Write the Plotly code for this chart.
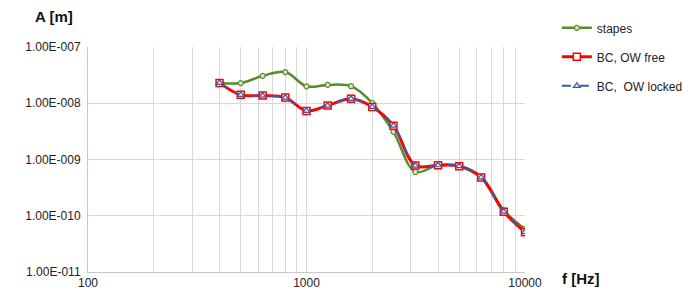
import plotly.graph_objects as go

freq = [400, 500, 630, 800, 1000, 1250, 1600, 2000, 2500, 3150, 4000, 5000, 6300, 8000, 10000]
stapes = [2.3e-8, 2.28e-8, 3.07e-8, 3.58e-8, 2.0e-8, 2.12e-8, 2.01e-8, 1.01e-8, 3.1e-9, 6.0e-10,
          8.0e-10, 7.7e-10, 5.0e-10, 1.25e-10, 5.8e-11]
ow_free = [2.3e-8, 1.41e-8, 1.37e-8, 1.26e-8, 7.3e-9, 9.1e-9, 1.2e-8, 8.6e-9, 4.0e-9, 7.8e-10,
           7.9e-10, 7.6e-10, 4.8e-10, 1.18e-10, 5.1e-11]
ow_locked = [2.3e-8, 1.41e-8, 1.37e-8, 1.26e-8, 7.3e-9, 9.1e-9, 1.2e-8, 8.6e-9, 4.0e-9, 7.8e-10,
             7.9e-10, 7.6e-10, 4.8e-10, 1.18e-10, 5.1e-11]

y_tickvals = [1e-11, 1e-10, 1e-9, 1e-8, 1e-7]
y_ticktext = ["1.00E-011", "1.00E-010", "1.00E-009", "1.00E-008", "1.00E-007"]
x_tickvals = [100, 1000, 10000]
x_ticktext = ["100", "1000", "10000"]

fig = go.Figure()
fig.add_trace(go.Scatter(
    x=freq, y=stapes, name="stapes", mode="lines+markers", line_shape="spline",
    line=dict(color="#5a8a2e", width=2.5),
    marker=dict(symbol="circle", size=5, color="#d8e6c8", line=dict(color="#5a8a2e", width=1.2)),
    legendgroup="a"))
fig.add_trace(go.Scatter(
    x=freq, y=ow_free, name="BC, OW free", mode="lines+markers", line_shape="spline",
    line=dict(color="#ff0000", width=3),
    marker=dict(symbol="square", size=7, color="white", line=dict(color="#ff0000", width=1.5)),
    legendgroup="b"))
fig.add_trace(go.Scatter(
    x=freq, y=ow_locked, name="BC,  OW locked", mode="lines+markers", line_shape="spline",
    line=dict(color="#3a5ba8", width=2, dash="dash"),
    marker=dict(symbol="triangle-up", size=6, color="#e8ecf8", line=dict(color="#3a5ba8", width=1.2)),
    legendgroup="c"))

fig.update_layout(
    width=693, height=297,
    margin=dict(l=80, r=176, t=39, b=33, autoexpand=False),
    paper_bgcolor="white", plot_bgcolor="white",
    font=dict(family="Liberation Sans, Arial, sans-serif", size=11, color="#222"),
    showlegend=True,
    legend=dict(xref="container", yref="container", x=0.792, y=0.982, xanchor="left", yanchor="top",
                font=dict(size=12, color="#222"), tracegroupgap=10,
                traceorder="grouped", itemwidth=30, bgcolor="rgba(0,0,0,0)"),
    xaxis=dict(type="log", range=[2, 4], tickvals=x_tickvals, ticktext=x_ticktext,
               showgrid=True, gridcolor="#d9d9d9", gridwidth=1,
               minor=dict(showgrid=True, gridcolor="#d9d9d9", gridwidth=1, ticks="", dtick="D1"),
               showline=True, linecolor="#c8c8c8", linewidth=1, zeroline=False,
               ticks="", tickfont=dict(size=12, color="#222")),
    yaxis=dict(type="log", range=[-11, -7], tickvals=y_tickvals, ticktext=y_ticktext,
               showgrid=True, gridcolor="#d9d9d9", gridwidth=1,
               showline=True, linecolor="#c8c8c8", linewidth=1, zeroline=False,
               ticks="", tickfont=dict(size=12, color="#222"), ticklabelstandoff=4),
)

fig.add_annotation(text="<b>A [m]</b>", xref="paper", yref="paper", x=-0.126, y=1.136,
                   xanchor="left", yanchor="middle", showarrow=False,
                   font=dict(size=15, color="#111"))
fig.add_annotation(text="<b>f [Hz]</b>", xref="paper", yref="paper", x=1.08, y=-0.03,
                   xanchor="left", yanchor="middle", showarrow=False,
                   font=dict(size=15, color="#111"))
fig.add_shape(type="line", xref="paper", yref="paper", x0=-0.185, x1=-0.185, y0=-0.2, y1=1.2,
              line=dict(color="#ff0000", width=1.5, dash="dot"))

fig.write_html("out.html")
